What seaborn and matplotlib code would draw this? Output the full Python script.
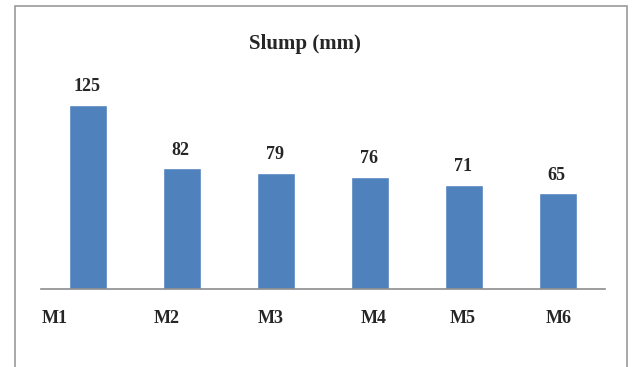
import matplotlib
matplotlib.use("Agg")
import matplotlib.pyplot as plt
import matplotlib.transforms as mtransforms
from matplotlib.patches import Rectangle
import seaborn as sns
import pandas as pd

mixes = ["M1", "M2", "M3", "M4", "M5", "M6"]
slump_mm = [125, 82, 79, 76, 71, 65]
title_text = "Slump (mm)"

df = pd.DataFrame({"mix": mixes, "slump": slump_mm})

sns.set_style("white")
plt.rcParams["font.family"] = ["Liberation Serif", "DejaVu Serif"]

fig = plt.figure(figsize=(6.36, 3.67), dpi=100)
W, H = 636, 367

# outer chart frame
fig.patches.append(Rectangle((15 / W, -0.05), (627 - 15) / W, 1.05 - 6 / H,
                             transform=fig.transFigure, fill=False,
                             edgecolor="#9a9a9a", linewidth=1.2))

ax = fig.add_axes([41 / W, 78 / H, 564 / W, 206 / H])
sns.barplot(data=df, x="mix", y="slump", color="#4F81BD", width=0.4,
            saturation=1, ax=ax)
ax.set_ylim(0, 140)
ax.set_xlim(-0.5, len(mixes) - 0.5)
ax.set_xlabel("")
ax.set_ylabel("")
ax.set_yticks([])
for s in ["left", "right", "top"]:
    ax.spines[s].set_visible(False)
ax.spines["bottom"].set_color("#8c8c8c")
ax.spines["bottom"].set_linewidth(1.2)
ax.tick_params(axis="x", length=0, pad=15)

# category labels, nudged horizontally
nudges_px = [-33, -15, -5, 4, -1, 1]
for lbl, dx in zip(ax.get_xticklabels(), nudges_px):
    lbl.set_fontsize(13)
    lbl.set_fontweight("bold")
    lbl.set_transform(lbl.get_transform() +
                      mtransforms.ScaledTranslation(dx / 100, 0, fig.dpi_scale_trans))

for patch, v in zip(ax.patches, slump_mm):
    ax.annotate(f"{v}", (patch.get_x() + patch.get_width() / 2, v),
                xytext=(-1, 7), textcoords="offset points",
                ha="center", va="bottom", fontsize=13, fontweight="bold")

fig.text(305 / W, 1 - 44 / H, title_text, ha="center", va="center",
         fontsize=15, fontweight="bold")

fig.savefig("out.png", dpi=100)
